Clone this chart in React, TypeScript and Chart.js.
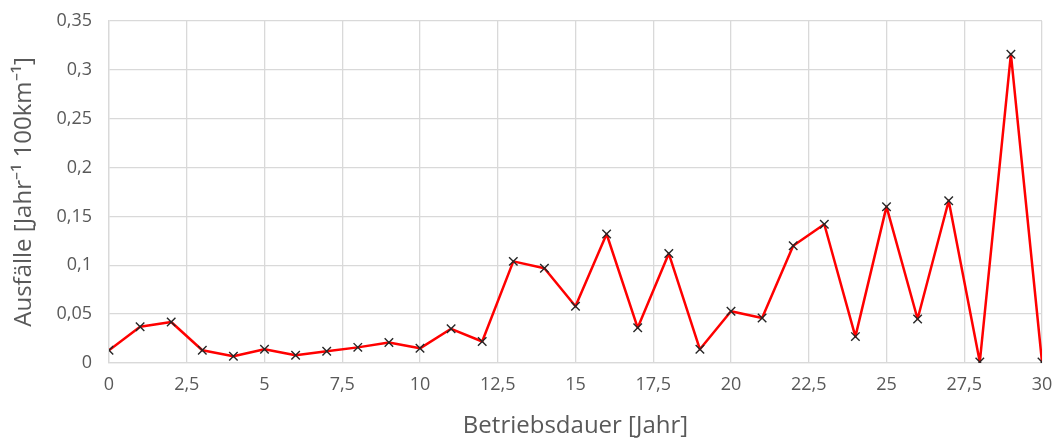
import React, { useEffect, useRef } from "react";
import { Chart, registerables } from "chart.js";

Chart.register(...registerables);

const years: number[] = [0,1,2,3,4,5,6,7,8,9,10,11,12,13,14,15,16,17,18,19,20,21,22,23,24,25,26,27,28,29,30];
const failures: number[] = [0.013,0.037,0.042,0.013,0.007,0.014,0.008,0.012,0.016,0.021,0.015,0.035,0.022,0.104,0.097,0.058,0.132,0.036,0.112,0.014,0.053,0.046,0.120,0.142,0.027,0.160,0.045,0.166,0.001,0.316,0.001];
const xTitle = "Betriebsdauer [Jahr]";
const yTitle = "Ausfälle [Jahr⁻¹ 100km⁻¹]";

const fmt = (v: number) => String(Math.round(v * 100) / 100).replace(".", ",");

export default function App() {
  const ref = useRef<HTMLCanvasElement | null>(null);
  useEffect(() => {
    if (!ref.current) return;
    const font = "'Open Sans', sans-serif";
    const chart = new Chart(ref.current, {
      type: "line",
      data: {
        datasets: [
          {
            data: years.map((x, i) => ({ x, y: failures[i] })),
            borderColor: "#ff0000",
            borderWidth: 2.5,
            borderJoinStyle: "round",
            pointStyle: "crossRot",
            pointRadius: 6,
            pointBorderColor: "#262626",
            pointBorderWidth: 1.4,
            pointBackgroundColor: "#262626",
            tension: 0,
            fill: false,
          },
        ],
      },
      options: {
        responsive: false,
        animation: false,
        layout: { padding: { top: 21, right: 15, left: 0, bottom: 0 } },
        plugins: { legend: { display: false }, tooltip: { enabled: false } },
        scales: {
          x: {
            type: "linear",
            min: 0,
            max: 30,
            ticks: { stepSize: 2.5, color: "#595959", font: { family: font, size: 18 }, padding: 11, callback: (v: any) => fmt(Number(v)), maxRotation: 0 },
            grid: { color: "#d9d9d9", lineWidth: 1.3, drawTicks: false },
            border: { color: "#d9d9d9", width: 1.3 },
            title: { display: true, text: xTitle, color: "#595959", font: { family: font, size: 24 }, padding: { top: 5, bottom: 0 } },
            afterFit: (s: any) => { s.height = 441 - 363; s.paddingLeft = 0; s.paddingRight = 0; },
          },
          y: {
            min: 0,
            max: 0.35,
            ticks: { stepSize: 0.05, color: "#595959", font: { family: font, size: 18 }, padding: 17, callback: (v: any) => fmt(Number(v)) },
            grid: { color: "#d9d9d9", lineWidth: 1.3, drawTicks: false },
            border: { color: "#d9d9d9", width: 1.3 },
            title: { display: true, text: yTitle, color: "#595959", font: { family: font, size: 24 }, padding: { top: 10, bottom: 0 } },
            afterFit: (s: any) => { s.width = 109; s.paddingTop = 0; s.paddingBottom = 0; },
          },
        },
      },
    } as any);
    return () => chart.destroy();
  }, []);
  return (
    <div style={{ position: "absolute", left: 0, top: 0, width: 1057, height: 441, background: "#fff" }}>
      <canvas ref={ref} width={1057} height={441} style={{ width: 1057, height: 441, display: "block" }} />
    </div>
  );
}
